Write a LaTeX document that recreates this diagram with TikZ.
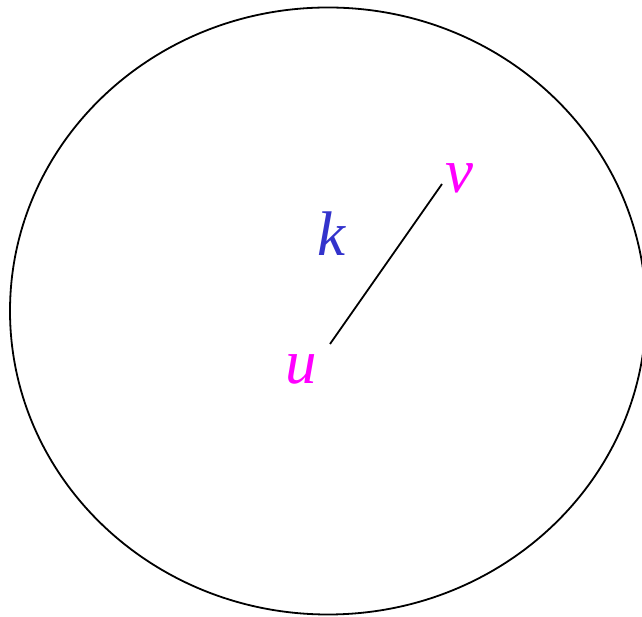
\documentclass[tikz,border=0pt]{standalone}
\usepackage{fontspec}
\setmainfont{Liberation Serif}
\definecolor{kblue}{RGB}{51,51,204}
\definecolor{vmag}{RGB}{255,0,255}
\begin{document}
\begin{tikzpicture}[x=1pt,y=1pt,
  lbl/.style={inner sep=0pt,anchor=base,font=\fontsize{63}{63}\selectfont\itshape},
  edge/.style={line width=1.8pt}]
\useasboundingbox (0,0) rectangle (642,617);
\begin{scope}
\clip (0,0) rectangle (642,617);
\draw[line width=1.8pt] (328,306) ellipse [x radius=318, y radius=303.5];
\end{scope}
\node[lbl,text=vmag] (u) at (301,233) {u};
\node[lbl,text=vmag] (v) at (459,424) {v};
\node[lbl,text=kblue] (k) at (331,361) {k};
\coordinate (a) at (330,273);
\coordinate (b) at (442,433);
\draw[edge] (a) -- (b);
\end{tikzpicture}
\end{document}
